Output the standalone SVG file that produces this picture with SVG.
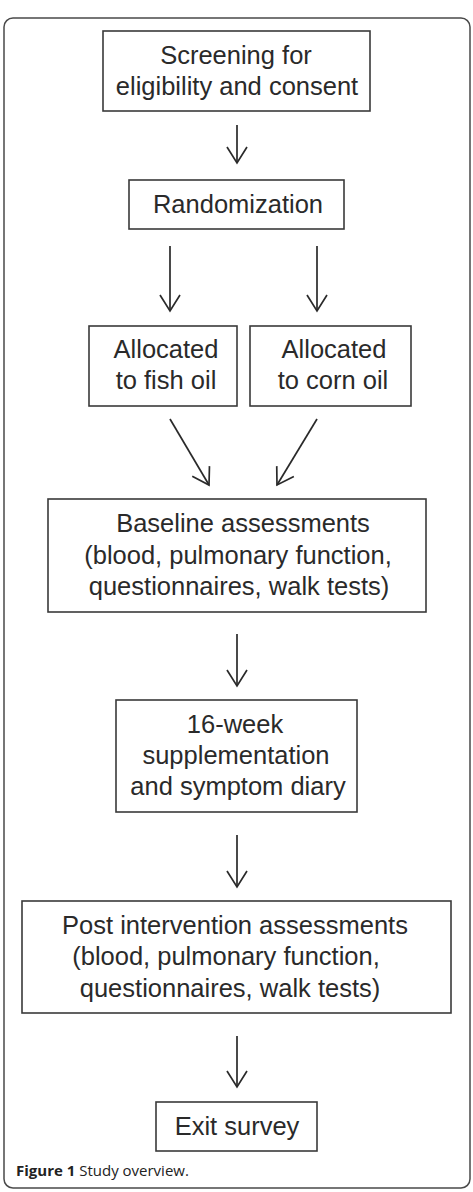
<svg xmlns="http://www.w3.org/2000/svg" width="473" height="1192" viewBox="0 0 473 1192">
<style>
.box{fill:#fff;stroke:#3a3a3a;stroke-width:1.6}
.t{font-family:"Liberation Sans",Arial,sans-serif;font-size:25.5px;fill:#2a2a2a;text-anchor:middle}
.c{stroke:#2a2a2a;stroke-width:1.7;fill:none}
.cap{font-family:"Open Sans","Liberation Sans",sans-serif;font-size:15px;fill:#222}
</style>
<defs>
<marker id="ah" markerUnits="userSpaceOnUse" markerWidth="24" markerHeight="26" viewBox="-20 -13 24 26" refX="0" refY="0" orient="auto">
<path d="M-16,-10 L0,0 L-16,10" fill="none" stroke="#2a2a2a" stroke-width="1.7"/>
</marker>
</defs>
<rect x="4" y="18" width="466" height="1170" rx="9" fill="#fff" stroke="#4a4a4a" stroke-width="1.5"/>
<g id="n1">
<rect class="box" x="103" y="31" width="267" height="80"/>
<text class="t" x="236" y="63.5">Screening for</text>
<text class="t" x="237" y="94.5">eligibility and consent</text>
</g>
<g id="n2">
<rect class="box" x="129" y="180" width="215" height="49"/>
<text class="t" x="238" y="212.5">Randomization</text>
</g>
<g id="n3">
<rect class="box" x="89" y="326" width="148" height="80"/>
<text class="t" x="166" y="358">Allocated</text>
<text class="t" x="166" y="389">to fish oil</text>
</g>
<g id="n4">
<rect class="box" x="250" y="326" width="161" height="80"/>
<text class="t" x="334" y="358">Allocated</text>
<text class="t" x="333" y="389">to corn oil</text>
</g>
<g id="n5">
<rect class="box" x="48" y="499" width="378" height="113"/>
<text class="t" x="243" y="532">Baseline assessments</text>
<text class="t" x="238" y="563.5">(blood, pulmonary function,</text>
<text class="t" x="239" y="595">questionnaires, walk tests)</text>
</g>
<g id="n6">
<rect class="box" x="116" y="700" width="241" height="112"/>
<text class="t" x="235" y="733">16-week</text>
<text class="t" x="236" y="764">supplementation</text>
<text class="t" x="238" y="795">and symptom diary</text>
</g>
<g id="n7">
<rect class="box" x="22" y="901" width="429" height="112"/>
<text class="t" x="235" y="934">Post intervention assessments</text>
<text class="t" x="226" y="965">(blood, pulmonary function,</text>
<text class="t" x="230" y="997">questionnaires, walk tests)</text>
</g>
<g id="n8">
<rect class="box" x="156" y="1102" width="161" height="49"/>
<text class="t" x="237" y="1135">Exit survey</text>
</g>
<g id="connectors">
<line class="c" x1="237" y1="125" x2="237" y2="163" marker-end="url(#ah)"/>
<line class="c" x1="170" y1="246" x2="170" y2="311" marker-end="url(#ah)"/>
<line class="c" x1="317" y1="246" x2="317" y2="311" marker-end="url(#ah)"/>
<line class="c" x1="170" y1="419" x2="209" y2="485" marker-end="url(#ah)"/>
<line class="c" x1="317" y1="419" x2="277" y2="485" marker-end="url(#ah)"/>
<line class="c" x1="237" y1="634" x2="237" y2="686" marker-end="url(#ah)"/>
<line class="c" x1="237" y1="835" x2="237" y2="887" marker-end="url(#ah)"/>
<line class="c" x1="237" y1="1036" x2="237" y2="1087" marker-end="url(#ah)"/>
</g>
<text class="cap" x="16" y="1176"><tspan font-weight="bold">Figure 1</tspan> Study overview.</text>
</svg>
